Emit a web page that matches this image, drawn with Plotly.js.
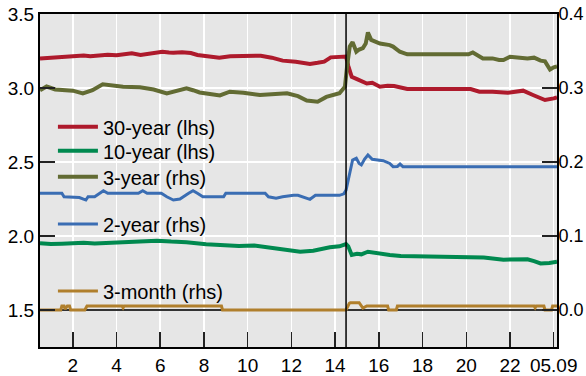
<!DOCTYPE html>
<html>
<head>
<meta charset="utf-8">
<script src="https://cdn.plot.ly/plotly-3.0.1.min.js"></script>
<style>html,body{margin:0;padding:0;background:#fff;}#chart{width:586px;height:376px;}</style>
</head>
<body>
<div id="chart"></div>
<script>
// ---- data (hours on x axis; lhs = left axis, rhs = right axis) ----
const xTickVals = [2, 4, 6, 8, 10, 12, 14, 16, 18, 20, 22, 24];
const xTickText = ["2", "4", "6", "8", "10", "12", "14", "16", "18", "20", "22", "05.09"];
const yLeftTicks = [1.5, 2.0, 2.5, 3.0, 3.5];
const yRightTicks = [0, 0.1, 0.2, 0.3, 0.4];
const yRightText = ["0.0", "0.1", "0.2", "0.3", "0.4"];
const eventHour = 14.5;

const x30 = [0.5, 0.8, 1.0, 1.3, 1.5, 1.8, 2.0, 2.5, 2.8, 3.1, 3.4, 3.6, 4.0, 4.3, 4.7, 5.1, 5.4, 5.6, 6.1, 6.4, 6.6, 7.0, 7.4, 7.7, 8.2, 8.7, 9.2, 9.8, 10.2, 10.6, 11.1, 11.6, 12.2, 12.5, 12.85, 13.2, 13.5, 13.8, 14.2, 14.5, 14.6, 14.76, 15.0, 15.2, 15.45, 15.7, 16.05, 16.4, 16.7, 17.3, 18.0, 19.0, 20.2, 20.6, 21.2, 21.9, 22.3, 22.6, 23.05, 23.4, 23.6, 24.0, 24.15];
const y30 = [3.200, 3.203, 3.205, 3.210, 3.212, 3.210, 3.218, 3.220, 3.215, 3.218, 3.224, 3.225, 3.222, 3.230, 3.235, 3.223, 3.228, 3.232, 3.245, 3.240, 3.238, 3.241, 3.236, 3.223, 3.212, 3.205, 3.214, 3.214, 3.220, 3.218, 3.205, 3.185, 3.178, 3.170, 3.162, 3.170, 3.178, 3.207, 3.210, 3.212, 3.150, 3.076, 3.060, 3.048, 3.030, 3.035, 3.009, 3.015, 3.013, 2.993, 2.993, 2.993, 2.993, 2.975, 2.975, 2.968, 2.975, 2.982, 2.953, 2.930, 2.919, 2.930, 2.937];

const x10 = [0.5, 1.0, 1.5, 2.0, 2.5, 3.0, 3.5, 4.0, 4.5, 5.3, 5.85, 6.5, 7.2, 8.1, 8.8, 9.6, 10.3, 11.2, 11.8, 12.4, 13.0, 13.76, 14.2, 14.5, 14.6, 14.76, 15.0, 15.2, 15.5, 16.0, 16.5, 17.0, 18.0, 19.0, 20.0, 20.8, 21.7, 22.3, 22.8, 23.1, 23.4, 23.8, 24.15];
const y10 = [1.951, 1.946, 1.948, 1.953, 1.955, 1.950, 1.952, 1.958, 1.960, 1.962, 1.968, 1.962, 1.958, 1.945, 1.940, 1.932, 1.935, 1.917, 1.905, 1.894, 1.900, 1.924, 1.930, 1.945, 1.930, 1.872, 1.880, 1.876, 1.894, 1.880, 1.872, 1.865, 1.862, 1.862, 1.860, 1.855, 1.840, 1.845, 1.843, 1.830, 1.815, 1.818, 1.826];

const x3y = [0.5, 0.8, 1.2, 2.0, 2.46, 2.9, 3.37, 3.8, 4.3, 5.07, 5.7, 6.3, 6.8, 7.2, 7.5, 7.8, 8.27, 8.73, 9.18, 9.8, 10.56, 11.2, 11.8, 12.3, 12.7, 13.2, 13.6, 14.2, 14.45, 14.55, 14.67, 14.8, 14.97, 15.1, 15.27, 15.4, 15.5, 15.65, 15.9, 16.05, 16.5, 16.65, 16.96, 17.3, 18.0, 19.0, 20.1, 20.3, 20.5, 20.76, 21.2, 21.5, 21.7, 22.0, 22.45, 22.8, 23.1, 23.4, 23.6, 23.83, 24.0, 24.15];
const y3y = [0.297, 0.302, 0.298, 0.2964, 0.2928, 0.297, 0.305, 0.303, 0.3018, 0.301, 0.298, 0.2928, 0.296, 0.2996, 0.297, 0.294, 0.292, 0.290, 0.295, 0.2936, 0.2905, 0.292, 0.2928, 0.289, 0.283, 0.2815, 0.288, 0.293, 0.3018, 0.330, 0.356, 0.362, 0.349, 0.352, 0.354, 0.360, 0.375, 0.365, 0.3626, 0.360, 0.358, 0.356, 0.349, 0.3455, 0.3455, 0.3455, 0.3455, 0.348, 0.344, 0.340, 0.340, 0.3378, 0.3378, 0.3423, 0.341, 0.340, 0.341, 0.337, 0.336, 0.325, 0.328, 0.329];

const x2y = [0.5, 1.5, 1.6, 2.0, 2.3, 2.6, 2.7, 3.0, 3.2, 3.4, 3.6, 5.0, 5.2, 5.4, 6.05, 6.3, 6.6, 6.9, 7.3, 7.5, 7.7, 7.95, 8.9, 9.0, 10.8, 10.95, 11.3, 11.6, 12.1, 12.3, 12.85, 13.1, 14.2, 14.4, 14.5, 14.6, 14.67, 14.8, 14.97, 15.1, 15.2, 15.35, 15.5, 15.7, 16.2, 16.5, 16.65, 16.85, 16.97, 17.1, 24.15];
const y2y = [0.1577, 0.1577, 0.153, 0.153, 0.152, 0.1486, 0.153, 0.153, 0.1577, 0.1612, 0.1577, 0.1577, 0.1612, 0.1577, 0.1577, 0.153, 0.1486, 0.150, 0.1577, 0.1612, 0.1577, 0.153, 0.153, 0.1577, 0.1577, 0.153, 0.151, 0.153, 0.155, 0.155, 0.1496, 0.155, 0.155, 0.157, 0.162, 0.175, 0.185, 0.2027, 0.205, 0.198, 0.196, 0.204, 0.2095, 0.2036, 0.2018, 0.198, 0.1937, 0.194, 0.1973, 0.1937, 0.1937];

const x3m = [0.5, 1.45, 1.5, 1.6, 1.65, 1.75, 1.85, 1.9, 2.55, 2.65, 4.25, 4.3, 4.35, 8.8, 8.85, 14.5, 14.65, 14.7, 15.1, 15.2, 15.27, 15.45, 16.4, 16.45, 16.8, 16.85, 23.1, 23.15, 23.2, 23.55, 23.6, 23.9, 23.95, 24.15];
const y3m = [0, 0, 0.0054, 0.0054, 0.001, 0.0054, 0.0054, 0, 0, 0.0054, 0.0054, 0.003, 0.0054, 0.0054, 0, 0, 0.009, 0.0099, 0.0099, 0.006, 0.0027, 0.0054, 0.0054, 0, 0, 0.0054, 0.0054, 0.003, 0.0054, 0.0054, 0, 0, 0.0054, 0.0054];

const FONT = "Liberation Sans, Arial, sans-serif";

const traces = [
  {x: x30, y: y30, name: "30-year (lhs)", yaxis: "y", legend: "legend", mode: "lines", line: {color: "#ae1a2c", width: 4}},
  {x: x10, y: y10, name: "10-year (lhs)", yaxis: "y", legend: "legend2", mode: "lines", line: {color: "#00894f", width: 4}},
  {x: x3y, y: y3y, name: "3-year (rhs)", yaxis: "y2", legend: "legend3", mode: "lines", line: {color: "#626b33", width: 4}},
  {x: x2y, y: y2y, name: "2-year (rhs)", yaxis: "y2", legend: "legend4", mode: "lines", line: {color: "#3a6db3", width: 3}},
  {x: x3m, y: y3m, name: "3-month (rhs)", yaxis: "y2", legend: "legend5", mode: "lines", line: {color: "#b07f2c", width: 3}}
];

const legendBase = {
  bgcolor: "rgba(0,0,0,0)", borderwidth: 0, xanchor: "left", yanchor: "top",
  font: {family: FONT, size: 20, color: "#000"}, itemwidth: 40, x: 0.025
};

const layout = {
  width: 586, height: 376,
  margin: {l: 40, r: 29, t: 14, b: 29, pad: 0},
  paper_bgcolor: "#ffffff",
  plot_bgcolor: "#e6e6e6",
  font: {family: FONT, size: 19, color: "#000"},
  showlegend: true,
  legend: Object.assign({}, legendBase, {y: 0.72}),
  legend2: Object.assign({}, legendBase, {y: 0.648}),
  legend3: Object.assign({}, legendBase, {y: 0.570}),
  legend4: Object.assign({}, legendBase, {y: 0.428}),
  legend5: Object.assign({}, legendBase, {y: 0.227}),
  xaxis: {
    range: [0.5, 24.15], tickmode: "array", tickvals: xTickVals, ticktext: xTickText,
    ticks: "inside", ticklen: 15, tickwidth: 1.5, tickcolor: "#222",
    showgrid: true, gridcolor: "#ffffff", gridwidth: 1.5,
    showline: true, linecolor: "#000", linewidth: 2, mirror: true,
    zeroline: false, tickfont: {family: FONT, size: 19, color: "#000"}
  },
  yaxis: {
    range: [1.25, 3.5], tickmode: "array", tickvals: yLeftTicks, tickformat: ".1f",
    ticks: "inside", ticklen: 15, tickwidth: 1.5, tickcolor: "#222",
    showgrid: true, gridcolor: "#ffffff", gridwidth: 1.5,
    showline: true, linecolor: "#000", linewidth: 2, mirror: true,
    zeroline: false, tickfont: {family: FONT, size: 19, color: "#000"}
  },
  yaxis2: {
    overlaying: "y", side: "right",
    range: [-0.05, 0.4], tickmode: "array", tickvals: yRightTicks, ticktext: yRightText,
    ticks: "inside", ticklen: 15, tickwidth: 1.5, tickcolor: "#222",
    ticklabelstandoff: -4,
    showgrid: false, showline: true, linecolor: "#000", linewidth: 2,
    zeroline: true, zerolinecolor: "#333", zerolinewidth: 1.2,
    tickfont: {family: FONT, size: 18, color: "#000"}
  },
  shapes: [
    {type: "line", xref: "x", yref: "paper", x0: eventHour, x1: eventHour, y0: 0, y1: 1,
     line: {color: "#000", width: 1.5}, layer: "above"}
  ]
};

Plotly.newPlot("chart", traces, layout, {displayModeBar: false, staticPlot: true});
</script>
</body>
</html>
